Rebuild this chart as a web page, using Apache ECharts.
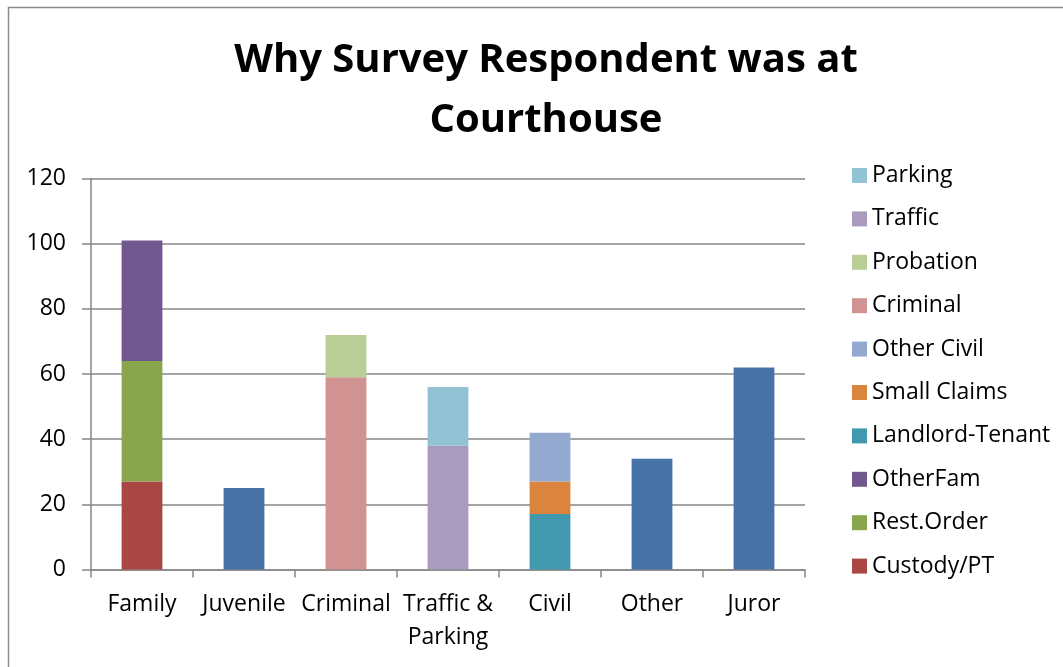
<!DOCTYPE html>
<html>
<head>
<meta charset="utf-8">
<script src="https://cdn.jsdelivr.net/npm/echarts@6/dist/echarts.min.js"></script>
<style>
html,body{margin:0;padding:0;background:#fff;}
#chart{width:1063px;height:667px;}
</style>
</head>
<body>
<div id="chart"></div>
<script>
const categories = ['Family', 'Juvenile', 'Criminal', 'Traffic &\nParking', 'Civil', 'Other', 'Juror'];
const yTicks = [0, 20, 40, 60, 80, 100, 120];

const custodyPT      = [27, null, null, null, null, null, null];
const restOrder      = [37, null, null, null, null, null, null];
const otherFam       = [37, null, null, null, null, null, null];
const landlordTenant = [null, null, null, null, 17, null, null];
const smallClaims    = [null, null, null, null, 10, null, null];
const otherCivil     = [null, null, null, null, 15, null, null];
const criminal       = [null, null, 59, null, null, null, null];
const probation      = [null, null, 13, null, null, null, null];
const traffic        = [null, null, null, 38, null, null, null];
const parking        = [null, null, null, 18, null, null, null];
const single         = [null, 25, null, null, null, 34, 62];

const seriesDefs = [
  { name: 'Total', data: single, color: '#4672A7' },
  { name: 'Custody/PT', data: custodyPT, color: '#AA4643' },
  { name: 'Rest.Order', data: restOrder, color: '#89A54E' },
  { name: 'OtherFam', data: otherFam, color: '#71588F' },
  { name: 'Landlord-Tenant', data: landlordTenant, color: '#4198AF' },
  { name: 'Small Claims', data: smallClaims, color: '#DB843D' },
  { name: 'Other Civil', data: otherCivil, color: '#93A9CF' },
  { name: 'Criminal', data: criminal, color: '#D19392' },
  { name: 'Probation', data: probation, color: '#B9CD96' },
  { name: 'Traffic', data: traffic, color: '#A99BBD' },
  { name: 'Parking', data: parking, color: '#92C3D4' }
];

const legendNames = ['Parking', 'Traffic', 'Probation', 'Criminal', 'Other Civil', 'Small Claims', 'Landlord-Tenant', 'OtherFam', 'Rest.Order', 'Custody/PT'];

const FONT = 'Open Sans';
const chart = echarts.init(document.getElementById('chart'), null, { renderer: 'canvas' });
chart.setOption({
  animation: false,
  backgroundColor: '#fff',
  textStyle: { fontFamily: FONT },
  graphic: [{
    type: 'rect', silent: true, z: -1,
    shape: { x: 8.5, y: 7.5, width: 1100, height: 700 },
    style: { fill: 'none', stroke: '#8c8c8c', lineWidth: 1.5 }
  }],
  title: {
    text: 'Why Survey Respondent was at\nCourthouse',
    left: 541, top: 26, textAlign: 'center',
    textStyle: { fontFamily: FONT, fontSize: 40, fontWeight: 'bold', color: '#000', lineHeight: 60 }
  },
  legend: {
    data: legendNames,
    orient: 'vertical',
    left: 847, top: 159,
    itemWidth: 15, itemHeight: 15, itemGap: 20.4,
    icon: 'rect',
    textStyle: { fontFamily: FONT, fontSize: 23, lineHeight: 23, color: '#000', padding: [0, 0, 0, 0] },
    selectedMode: false
  },
  grid: { left: 91, right: 1063 - 805, top: 178.5, bottom: 667 - 569.5, containLabel: false },
  xAxis: {
    type: 'category',
    data: categories,
    axisLine: { lineStyle: { color: '#868686', width: 1.5 } },
    axisTick: { show: true, alignWithLabel: false, length: 8, lineStyle: { color: '#868686', width: 1.5 } },
    axisLabel: { fontFamily: FONT, fontSize: 23, color: '#000', margin: 18, lineHeight: 33, interval: 0 }
  },
  yAxis: {
    type: 'value', min: 0, max: 120, interval: 20,
    axisLine: { show: true, lineStyle: { color: '#868686', width: 1.5 } },
    axisTick: { show: true, length: 9, lineStyle: { color: '#868686', width: 1.5 } },
    splitLine: { lineStyle: { color: '#868686', width: 1.5 } },
    axisLabel: { fontFamily: FONT, fontSize: 23, color: '#000', margin: 25 }
  },
  series: seriesDefs.map(s => ({
    name: s.name, type: 'bar', stack: 'all', data: s.data,
    barWidth: '40%',
    itemStyle: { color: s.color }
  }))
});
</script>
</body>
</html>
